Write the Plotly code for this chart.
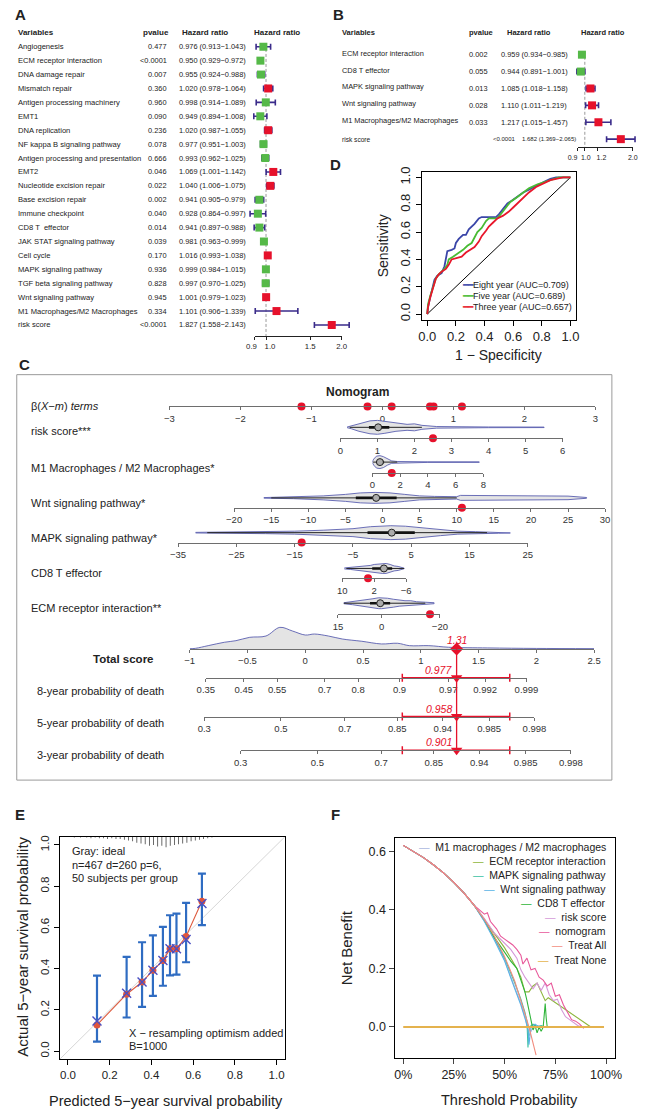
import math
import plotly.graph_objects as go

W, H = 649, 1114
FONT = "Liberation Sans, Arial, Helvetica, sans-serif"
RED = '#e6112b'
GREEN = '#55b948'
PURPLE = '#3a2b8a'

# ---------------- Panel A : univariate Cox ----------------
a_vars = ["Angiogenesis", "ECM receptor interaction", "DNA damage repair", "Mismatch repair",
          "Antigen processing machinery", "EMT1", "DNA replication", "NF kappa B signaling pathway",
          "Antigen processing and presentation", "EMT2", "Nucleotide excision repair",
          "Base excision repair", "Immune checkpoint", "CD8 T  effector", "JAK STAT signaling pathway",
          "Cell cycle", "MAPK signaling pathway", "TGF beta signaling pathway", "Wnt signaling pathway",
          "M1 Macrophages/M2 Macrophages", "risk score"]
a_pval = ["0.477", "<0.0001", "0.007", "0.360", "0.960", "0.090", "0.236", "0.078", "0.666", "0.046",
          "0.022", "0.002", "0.040", "0.014", "0.039", "0.170", "0.936", "0.828", "0.945", "0.334", "<0.0001"]
a_hr = [0.976, 0.950, 0.955, 1.020, 0.998, 0.949, 1.020, 0.977, 0.993, 1.069, 1.040, 0.941, 0.928, 0.941,
        0.981, 1.016, 0.999, 0.997, 1.001, 1.101, 1.827]
a_lo = [0.913, 0.929, 0.924, 0.978, 0.914, 0.894, 0.987, 0.951, 0.962, 1.001, 1.006, 0.905, 0.864, 0.897,
        0.963, 0.993, 0.984, 0.970, 0.979, 0.906, 1.558]
a_hi = [1.043, 0.972, 0.988, 1.064, 1.089, 1.008, 1.055, 1.003, 1.025, 1.142, 1.075, 0.979, 0.997, 0.988,
        0.999, 1.038, 1.015, 1.025, 1.023, 1.339, 2.143]
a_ticks = [0.9, 1.0, 1.5, 2.0]
a_ticktext = ["0.9", "1.0", "1.5", "2.0"]

# ---------------- Panel B : multivariate Cox ----------------
b_vars = ["ECM receptor interaction", "CD8 T effector", "MAPK signaling pathway", "Wnt signaling pathway",
          "M1 Macrophages/M2 Macrophages", "risk score"]
b_pval = ["0.002", "0.055", "0.013", "0.028", "0.033", "<0.0001"]
b_hr = [0.959, 0.944, 1.085, 1.110, 1.217, 1.682]
b_lo = [0.934, 0.891, 1.018, 1.011, 1.015, 1.369]
b_hi = [0.985, 1.001, 1.158, 1.219, 1.457, 2.065]
b_ticks = [0.9, 1.0, 1.2, 2.0]
b_ticktext = ["0.9", "1.0", "1.2", "2.0"]

# ---------------- Panel D : ROC ----------------
roc8_fpr = [0, 0.005, 0.02, 0.04, 0.05, 0.07, 0.10, 0.12, 0.13, 0.14, 0.17, 0.19, 0.20, 0.22, 0.25, 0.27, 0.29,
            0.31, 0.33, 0.36, 0.38, 0.48, 0.50, 0.53, 0.56, 0.59, 0.63, 0.67, 0.71, 0.76, 0.82, 0.86, 0.90, 1.0]
roc8_tpr = [0, 0.05, 0.12, 0.20, 0.25, 0.28, 0.30, 0.35, 0.40, 0.46, 0.47, 0.48, 0.52, 0.55, 0.58, 0.58, 0.62,
            0.64, 0.66, 0.70, 0.71, 0.71, 0.73, 0.77, 0.81, 0.83, 0.86, 0.89, 0.91, 0.94, 0.97, 0.99, 1.0, 1.0]
roc5_fpr = [0, 0.005, 0.02, 0.04, 0.06, 0.08, 0.10, 0.12, 0.14, 0.15, 0.18, 0.21, 0.25, 0.28, 0.31, 0.33, 0.35,
            0.38, 0.41, 0.43, 0.49, 0.52, 0.55, 0.58, 0.62, 0.66, 0.71, 0.77, 0.83, 0.88, 0.92, 1.0]
roc5_tpr = [0, 0.07, 0.13, 0.20, 0.26, 0.29, 0.31, 0.33, 0.36, 0.40, 0.42, 0.44, 0.47, 0.50, 0.52, 0.56, 0.60,
            0.63, 0.68, 0.70, 0.70, 0.74, 0.78, 0.82, 0.85, 0.88, 0.92, 0.95, 0.97, 0.99, 1.0, 1.0]
roc3_fpr = [0, 0.005, 0.02, 0.04, 0.06, 0.08, 0.10, 0.13, 0.15, 0.17, 0.21, 0.24, 0.27, 0.30, 0.33, 0.36, 0.38,
            0.41, 0.43, 0.46, 0.49, 0.53, 0.57, 0.60, 0.64, 0.67, 0.71, 0.76, 0.80, 0.86, 0.90, 0.95, 1.0]
roc3_tpr = [0, 0.05, 0.12, 0.20, 0.26, 0.29, 0.31, 0.33, 0.36, 0.40, 0.41, 0.42, 0.45, 0.47, 0.49, 0.53, 0.57,
            0.61, 0.64, 0.67, 0.70, 0.72, 0.75, 0.78, 0.82, 0.85, 0.89, 0.93, 0.95, 0.98, 0.99, 1.0, 1.0]
roc_names = ["Eight year (AUC=0.709)", "Five year (AUC=0.689)", "Three year (AUC=0.657)"]
roc_colors = ['#3a45a8', '#49bb34', '#e8162b']

# ---------------- Panel C : nomogram ----------------
beta_ticks = [-3, -2, -1, 0, 1, 2, 3]
beta_points = [-1.14, -0.21, 0.13, 0.67, 0.72, 1.12]

risk_ticks = [0, 1, 2, 3, 4, 5, 6]
risk_vx = [0.18, 0.3, 0.5, 0.8, 1.0, 1.2, 1.5, 1.8, 2.0, 2.2, 2.6, 3.0, 4.0, 5.5]
risk_vw = [0.3, 1.5, 4.0, 6.5, 7.0, 6.0, 4.0, 3.0, 3.5, 2.0, 0.8, 0.5, 0.35, 0.25]
risk_box = [0.77, 1.32, 0.25, 2.2, 1.02]          # q1, q3, whisker lo, whisker hi, median
risk_point = 2.5

m1_ticks = [0, 2, 4, 6, 8]
m1_vx = [0.0, 0.1, 0.3, 0.55, 0.8, 1.1, 1.4, 1.8, 2.5, 4.0, 7.7]
m1_vw = [0.3, 3.0, 6.0, 6.5, 5.5, 3.0, 1.2, 0.6, 0.4, 0.3, 0.25]
m1_box = [0.3, 0.85, 0.05, 1.8, 0.55]
m1_point = 1.4

wnt_ticks = [-20, -15, -10, -5, 0, 5, 10, 15, 20, 25, 30]
wnt_vx = [-16, -12, -8, -5, -3, -1, 1, 3, 5, 7, 10, 10.5, 15, 20, 25, 27.5]
wnt_vw = [0.3, 0.8, 2.0, 3.5, 5.0, 5.5, 5.0, 3.5, 2.0, 1.5, 1.2, 2.5, 2.2, 2.0, 1.8, 0.4]
wnt_box = [-3.6, 1.9, -15, 10, -0.86]
wnt_point = 10.7

mapk_ticks = [-35, -25, -15, -5, 5, 15, 25]
mapk_vx = [-32, -25, -20, -15, -10, -5, -2, 1.5, 4, 7, 10, 13, 16, 20, 22]
mapk_vw = [0.3, 0.6, 1.0, 1.5, 2.5, 4.0, 6.0, 7.0, 6.5, 5.0, 3.0, 1.5, 1.0, 0.6, 0.3]
mapk_box = [-2.5, 5.6, -30, 18, 1.65]
mapk_point = -13.8

cd8_ticks = [10, 2, -6]
cd8_vx = [9.5, 8, 6, 4.5, 3, 2, 1, 0, -1, -2, -3, -4, -5, -5.5]
cd8_vw = [0.5, 1.0, 2.0, 2.5, 3.0, 4.0, 4.5, 5.0, 5.0, 4.0, 2.5, 2.0, 1.0, 0.3]
cd8_box = [2.5, -2.5, 9, -5.5, -0.43]
cd8_point = 3.55

ecm_ticks = [15, 0, -20]
ecm_vx = [13, 10, 7, 5, 3, 1, 0, -2, -4, -6, -8, -10, -12, -15, -18]
ecm_vw = [0.5, 1.5, 2.5, 3.5, 4.5, 5.5, 5.5, 5.0, 4.0, 3.0, 2.5, 2.5, 1.5, 1.0, 0.5]
ecm_box = [4.0, -2.9, 13, -15, 0.5]
ecm_point = -16.6

total_ticks = [-1, -0.5, 0, 0.5, 1, 1.5, 2, 2.5]
total_ticktext = ["−1", "−0.5", "0", "0.5", "1", "1.5", "2", "2.5"]
total_dx = [-1.0, -0.95, -0.84, -0.7, -0.6, -0.48, -0.34, -0.22, -0.11, 0.0, 0.08, 0.2, 0.32, 0.49, 0.66,
            0.8, 0.9, 1.07, 1.24, 1.58, 2.0, 2.5]
total_dy = [0.2, 0.6, 3.3, 6.7, 8.3, 11.7, 13.0, 21.7, 18.0, 14.0, 15.0, 13.0, 10.0, 7.7, 5.0, 5.7, 3.3, 3.3,
            1.7, 1.0, 0.5, 0.3]
total_score = 1.31
total_ci = [0.84, 1.77]

p8_labels = ["0.35", "0.45", "0.55", "0.7", "0.8", "0.9", "0.97", "0.992", "0.999"]
p8_scores = [-0.86, -0.532, -0.243, 0.168, 0.458, 0.816, 1.237, 1.557, 1.915]
p5_labels = ["0.3", "0.5", "0.7", "0.85", "0.94", "0.985", "0.998"]
p5_scores = [-0.874, -0.21, 0.342, 0.797, 1.191, 1.592, 1.984]
p3_labels = ["0.3", "0.5", "0.7", "0.85", "0.94", "0.985", "0.998"]
p3_scores = [-0.559, 0.105, 0.657, 1.112, 1.506, 1.907, 2.299]
pred_probs = ["0.977", "0.958", "0.901"]

# ---------------- Panel E : calibration ----------------
e_pred = [0.139, 0.281, 0.355, 0.407, 0.455, 0.489, 0.520, 0.566, 0.642]
e_obs = [0.127, 0.276, 0.335, 0.392, 0.439, 0.496, 0.496, 0.556, 0.727]
e_corr = [0.146, 0.281, 0.335, 0.392, 0.439, 0.496, 0.496, 0.541, 0.716]
e_lo = [0.046, 0.163, 0.215, 0.268, 0.317, 0.367, 0.371, 0.431, 0.611]
e_hi = [0.366, 0.457, 0.528, 0.561, 0.603, 0.659, 0.667, 0.719, 0.861]
rug_x = [0.03, 0.06, 0.09, 0.11, 0.13, 0.15, 0.17, 0.19, 0.21, 0.23, 0.25, 0.27, 0.29, 0.31, 0.33, 0.35, 0.37,
         0.39, 0.41, 0.43, 0.45, 0.47, 0.49, 0.51, 0.53, 0.55, 0.57, 0.59, 0.61, 0.63, 0.65, 0.67, 0.69]
rug_n = [1, 1, 1, 2, 1, 2, 2, 3, 2, 3, 3, 4, 5, 6, 8, 9, 10, 12, 11, 13, 12, 14, 12, 11, 10, 9, 8, 6, 5, 4, 3,
         2, 1]

# ---------------- Panel F : decision curves ----------------
f_all_x = [0.0, 0.05, 0.1, 0.15, 0.2, 0.25, 0.3, 0.35, 0.4, 0.45, 0.5, 0.55, 0.6, 0.62, 0.655]
f_all_y = [0.620, 0.600, 0.578, 0.553, 0.525, 0.493, 0.457, 0.415, 0.367, 0.309, 0.240, 0.156, 0.050, 0.0, -0.096]
f_none_x = [0.0, 0.99]
f_none_y = [0.0, 0.0]
f_nomo_x = [0.00, 0.05, 0.10, 0.15, 0.20, 0.25, 0.30, 0.35, 0.38, 0.40, 0.415, 0.43, 0.46, 0.48, 0.50, 0.52,
            0.54, 0.56, 0.58, 0.59, 0.61, 0.63, 0.65, 0.67, 0.69, 0.71, 0.73, 0.75, 0.77, 0.79, 0.81, 0.83,
            0.85, 0.87, 0.89]
f_nomo_y = [0.620, 0.600, 0.578, 0.553, 0.525, 0.493, 0.457, 0.415, 0.395, 0.385, 0.390, 0.360, 0.335, 0.310,
            0.300, 0.290, 0.280, 0.265, 0.245, 0.215, 0.235, 0.195, 0.200, 0.170, 0.160, 0.140, 0.150, 0.105,
            0.110, 0.075, 0.050, 0.025, 0.020, 0.010, -0.005]
f_risk_x = [0.00, 0.05, 0.10, 0.15, 0.20, 0.25, 0.30, 0.35, 0.40, 0.45, 0.50, 0.53, 0.56, 0.58, 0.60, 0.62,
            0.64, 0.66, 0.68, 0.70, 0.72, 0.74, 0.76, 0.78, 0.80, 0.82, 0.84, 0.86, 0.88]
f_risk_y = [0.620, 0.600, 0.578, 0.553, 0.525, 0.493, 0.457, 0.415, 0.370, 0.320, 0.285, 0.265, 0.235, 0.195,
            0.170, 0.150, 0.130, 0.150, 0.125, 0.150, 0.110, 0.090, 0.095, 0.060, 0.035, 0.025, 0.015, 0.005, 0.0]
f_ecm_x = [0.00, 0.05, 0.10, 0.15, 0.20, 0.25, 0.30, 0.35, 0.40, 0.45, 0.50, 0.53, 0.56, 0.58, 0.60, 0.62,
           0.64, 0.66, 0.68, 0.70, 0.715, 0.925]
f_ecm_y = [0.620, 0.600, 0.578, 0.553, 0.525, 0.493, 0.457, 0.415, 0.367, 0.315, 0.270, 0.235, 0.200, 0.170,
           0.120, 0.120, 0.140, 0.150, 0.120, 0.090, 0.100, 0.0]
f_cd8_x = [0.00, 0.05, 0.10, 0.15, 0.20, 0.25, 0.30, 0.35, 0.40, 0.45, 0.50, 0.53, 0.56, 0.58, 0.60, 0.61,
           0.62, 0.63, 0.64, 0.65, 0.66, 0.67, 0.68, 0.69, 0.70, 0.705, 0.71, 0.72]
f_cd8_y = [0.620, 0.600, 0.578, 0.553, 0.525, 0.493, 0.457, 0.415, 0.367, 0.305, 0.255, 0.225, 0.200, 0.160,
           0.120, 0.090, 0.060, 0.020, -0.010, 0.005, -0.020, 0.000, -0.015, 0.000, 0.080, 0.030, 0.000, 0.0]
f_mapk_x = [0.00, 0.05, 0.10, 0.15, 0.20, 0.25, 0.30, 0.35, 0.40, 0.45, 0.50, 0.55, 0.58, 0.60, 0.61, 0.615,
            0.62, 0.63, 0.64, 0.66, 0.68, 0.70]
f_mapk_y = [0.620, 0.600, 0.578, 0.553, 0.525, 0.493, 0.457, 0.415, 0.367, 0.305, 0.235, 0.150, 0.095, 0.050,
            0.020, -0.070, -0.010, 0.005, 0.010, 0.000, 0.005, 0.000]
f_wnt_x = [0.00, 0.05, 0.10, 0.15, 0.20, 0.25, 0.30, 0.35, 0.40, 0.45, 0.50, 0.55, 0.58, 0.60, 0.615, 0.62,
           0.63, 0.65, 0.67, 0.70]
f_wnt_y = [0.620, 0.600, 0.578, 0.553, 0.525, 0.493, 0.457, 0.415, 0.360, 0.295, 0.225, 0.130, 0.075, 0.030,
           -0.005, -0.060, 0.000, 0.010, 0.000, 0.000]
f_m1_x = [0.00, 0.05, 0.10, 0.15, 0.20, 0.25, 0.30, 0.35, 0.40, 0.45, 0.50, 0.55, 0.58, 0.60, 0.62, 0.64,
          0.66, 0.70]
f_m1_y = [0.620, 0.600, 0.578, 0.553, 0.525, 0.493, 0.457, 0.415, 0.362, 0.300, 0.228, 0.135, 0.080, 0.035,
          -0.030, 0.000, 0.005, 0.000]
f_names = ["M1 macrophages / M2 macrophages", "ECM receptor interaction", "MAPK signaling pathway",
           "Wnt signaling pathway", "CD8 T effector", "risk score", "nomogram", "Treat All", "Treat None"]
f_colors = ['#aab6df', '#8db53c', '#3cc2a2', '#5ab2e6', '#2fb43a', '#d598d8', '#e8589a', '#f28c7e', '#e4b24e']

# =====================================================================
layout = dict(width=W, height=H, margin=dict(l=0, r=0, t=0, b=0, pad=0), paper_bgcolor='white',
              plot_bgcolor='rgba(0,0,0,0)', showlegend=False, hovermode=False,
              font=dict(family=FONT, size=10, color='#222'))
fig = go.Figure()
annotations = []
shapes = []
AX = [0]


def new_axes(xd, yd, xcfg=None, ycfg=None):
    AX[0] += 1
    n = AX[0]
    s = '' if n == 1 else str(n)
    xn, yn = 'x' + s, 'y' + s
    xc = dict(domain=[xd[0] / W, min(1, xd[1] / W)], anchor=yn, visible=False, showgrid=False,
              zeroline=False, fixedrange=True)
    if xcfg:
        xc.update(xcfg)
    yc = dict(domain=[1 - yd[0] / H, 1 - yd[1] / H], anchor=xn, visible=False, showgrid=False,
              zeroline=False, fixedrange=True)
    if ycfg:
        yc.update(ycfg)
    layout['xaxis' + s] = xc
    layout['yaxis' + s] = yc
    return xn, yn


def ann(text, x, y, size=8, xanchor='center', yanchor='middle', color='#222', angle=0, yref='paper',
        xref='paper', **kw):
    d = dict(text=text, x=(x / W) if xref == 'paper' else x, y=(1 - y / H) if yref == 'paper' else y,
             xref=xref, yref=yref, xanchor=xanchor, yanchor=yanchor, showarrow=False, textangle=angle,
             font=dict(size=size, color=color, family=FONT))
    d.update(kw)
    annotations.append(d)


def add(tr, xa, ya):
    tr.update(xaxis=xa, yaxis=ya, showlegend=False, hoverinfo='skip')
    fig.add_trace(tr)


# ---------------- forest helper ----------------
def forest(hr, lo, hi, ticks, ticktext, shifts, p1, slope, xd, y_top, y_row0, dy, y_axis, tsize):
    n = len(hr)
    yr = [(y_axis - y_row0) / dy, (y_top - y_row0) / dy]
    rng = [(xd[0] - p1) / slope, (xd[1] - p1) / slope]
    xa, ya = new_axes(xd, (y_axis, y_top), dict(type='log', range=rng), dict(range=yr))
    rows = list(range(n))
    add(go.Scatter(x=[1, 1], y=[yr[1] + 0.3, yr[0]], mode='lines',
                   line=dict(color='#9a9a9a', width=1, dash='3px,2px')), xa, ya)
    add(go.Scatter(x=hr, y=rows, mode='markers',
                   marker=dict(symbol='square', size=8, color=[GREEN if v < 1 else RED for v in hr]),
                   error_x=dict(type='data', symmetric=False, array=[h - v for h, v in zip(hi, hr)],
                                arrayminus=[v - l for v, l in zip(hr, lo)], color=PURPLE, thickness=1.6,
                                width=3),
                   cliponaxis=False), xa, ya)
    # visible axis line + ticks covering only the tick extent
    txd = (p1 + slope * math.log10(ticks[0]), p1 + slope * math.log10(ticks[-1]))
    trng = [math.log10(ticks[0]), math.log10(ticks[-1])]
    base = dict(visible=True, type='log', range=trng, tickvals=ticks, ticktext=ticktext, showline=True,
                linecolor='#222', linewidth=1, ticks='outside', ticklen=3, tickcolor='#222',
                showticklabels=False, showgrid=False, zeroline=False)
    tx, ty = new_axes(txd, (y_axis, y_top), base, dict(range=yr))
    add(go.Scatter(x=ticks, y=[None] * len(ticks), mode='markers'), tx, ty)
    # one label axis per tick so crowded labels can be nudged apart
    for t, lab, sh in zip(ticks, ticktext, shifts):
        cfg = dict(visible=True, type='log', range=trng, tickvals=[t], ticktext=[lab], showline=False,
                   ticks='outside', ticklen=3, tickcolor='rgba(0,0,0,0)', tickangle=0, ticklabelshift=sh,
                   tickfont=dict(size=tsize, color='#222', family=FONT), showgrid=False, zeroline=False)
        lx, ly = new_axes(txd, (y_axis, y_top), cfg, dict(range=yr))
        add(go.Scatter(x=[t], y=[None], mode='markers'), lx, ly)
    return ya


# ---------------- Panel A ----------------
ann('<b>A</b>', 3, 10, 15, 'left')
yA = forest(a_hr, a_lo, a_hi, a_ticks, a_ticktext, [-3, 4, 0, 0], 265, 260, (244, 356), 35, 42, 14, 333, 7.8)
ann('<b>Variables</b>', 6, 28, 8, 'left')
ann('<b>pvalue</b>', 151, 28, 8)
ann('<b>Hazard ratio</b>', 202, 28, 8)
ann('<b>Hazard ratio</b>', 276, 28, 8)
for i, name in enumerate(a_vars):
    ann(name, 6, i, 7.6, 'left', yref=yA)
    ann(a_pval[i], 164.5, i, 7.4, 'right', yref=yA)
    ann(f"{a_hr[i]:.3f} ({a_lo[i]:.3f}−{a_hi[i]:.3f})", 173, i, 7.4, 'left', yref=yA)

# ---------------- Panel B ----------------
ann('<b>B</b>', 332, 10, 15, 'left')
yB = forest(b_hr, b_lo, b_hi, b_ticks, b_ticktext, [-5, 1, 4, 0], 595, 165, (578, 649), 42, 50, 17, 143, 7)
ann('<b>Variables</b>', 342, 28, 7.5, 'left')
ann('<b>pvalue</b>', 488, 28, 7.5)
ann('<b>Hazard ratio</b>', 537, 28, 7.5)
ann('<b>Hazard ratio</b>', 614, 28, 7.5)
for i, name in enumerate(b_vars):
    if i < len(b_vars) - 1:
        ann(name, 342, i, 7.4, 'left', yref=yB, yshift=1.5)
        ann(b_pval[i], 497, i, 7.4, 'right', yref=yB)
        ann(f"{b_hr[i]:.3f} ({b_lo[i]:.3f}−{b_hi[i]:.3f})", 506, i, 7.4, 'left', yref=yB)
    else:
        ann(name, 342, i, 6.6, 'left', yref=yB)
        ann(b_pval[i], 526, i, 6.0, 'right', yref=yB)
        ann(f"{b_hr[i]:.3f} ({b_lo[i]:.3f}−{b_hi[i]:.3f})", 528, i, 6.0, 'left', yref=yB)


# ---------------- Panel D : ROC ----------------
def frame_axis(rng, vals, text, size, angle=None, tickcolor='black'):
    d = dict(visible=True, range=rng, tickvals=vals, ticktext=text, showline=True, mirror=True,
             linecolor='black', linewidth=1, ticks='outside', ticklen=5, tickcolor=tickcolor,
             tickfont=dict(size=size, color='#222', family=FONT), showgrid=False, zeroline=False)
    if angle is not None:
        d['tickangle'] = angle
    return d


ann('<b>D</b>', 329, 161, 15, 'left')
u = [0, 0.2, 0.4, 0.6, 0.8, 1.0]
ut = ['0.0', '0.2', '0.4', '0.6', '0.8', '1.0']
xD, yD = new_axes((426, 586), (316.5, 168), frame_axis([-0.04, 1.04], u, ut, 13),
                  frame_axis([-0.04, 1.04], u, ut, 13, angle=-90))
add(go.Scatter(x=[0, 1], y=[0, 1], mode='lines', line=dict(color='black', width=1)), xD, yD)
for fx, ty_, c in zip([roc8_fpr, roc5_fpr, roc3_fpr], [roc8_tpr, roc5_tpr, roc3_tpr], roc_colors):
    add(go.Scatter(x=fx, y=ty_, mode='lines', line=dict(color=c, width=1.8)), xD, yD)
for k, (nm, c) in enumerate(zip(roc_names, roc_colors)):
    ann(f'<span style="color:{c}">━━</span>{nm}', 466, 282 + 11 * k, 9, 'left')
ann('Sensitivity', 387, 242, 14, angle=-90)
ann('1 − Specificity', 506, 352, 14)

# ---------------- Panel C : nomogram ----------------
ann('<b>C</b>', 7, 362, 15, 'left')
shapes.append(dict(type='rect', xref='paper', yref='paper', x0=7 / W, x1=623 / W, y0=1 - 780 / H,
                   y1=1 - 372 / H, line=dict(color='#9a9a9a', width=1)))
ann('<b>Nomogram</b>', 360, 389, 12)

NCOL = '#5a5fb0'


def nomo_axis(vals, text, rng):
    return dict(visible=True, range=rng, tickvals=vals, ticktext=text, showline=True, linecolor='#6e6e6e',
                linewidth=1, ticks='outside', ticklen=3, tickcolor='#6e6e6e', tickangle=0,
                tickfont=dict(size=9.5, color='#333', family=FONT), showgrid=False, zeroline=False)


def fmt(v):
    s = f"{v:g}"
    return s.replace('-', '−')


def nomo_row(axis_y, xd, ticks, rng, ticktext=None, top=20):
    tt = ticktext if ticktext is not None else [fmt(t) for t in ticks]
    xc = nomo_axis(ticks, tt, rng)
    xc.update(anchor='free', position=1 - axis_y / H)
    return new_axes(xd, (axis_y + 8, axis_y - top), xc, dict(range=[-8, top]))


def draw_violin(xa, ya, vx, vw, box, point, off):
    px_ = list(vx) + list(vx[::-1])
    py_ = [off + w for w in vw] + [off - w for w in vw[::-1]]
    add(go.Scatter(x=px_, y=py_, mode='lines', fill='toself', fillcolor='#e4e4e4',
                   line=dict(color=NCOL, width=0.9)), xa, ya)
    add(go.Scatter(x=[box[2], box[3]], y=[off, off], mode='lines', line=dict(color='#222', width=1)), xa, ya)
    add(go.Scatter(x=[box[0], box[1]], y=[off, off], mode='lines', line=dict(color='#111', width=2.6)), xa, ya)
    add(go.Scatter(x=[box[4]], y=[off], mode='markers',
                   marker=dict(size=7, color='#ababab', line=dict(color='#222', width=1))), xa, ya)
    add(go.Scatter(x=[point], y=[0], mode='markers', marker=dict(size=8, color=RED), cliponaxis=False), xa, ya)


# beta terms
xb, ybb = nomo_row(404, (165, 606), beta_ticks, [-3, 3], top=8)
add(go.Scatter(x=beta_points, y=[0] * len(beta_points), mode='markers', marker=dict(size=8, color=RED),
               cliponaxis=False), xb, ybb)
ann('β(<i>X−m</i>) <i>terms</i>', 20, 404, 11, 'left')

rows = [
    ("risk score***", 429, 436, 11, (342, 572), risk_ticks, [0, 6], risk_vx, risk_vw, risk_box, risk_point),
    ("M1 Macrophages / M2 Macrophages*", 466, 471, 11, (375, 490), m1_ticks, [0, 8], m1_vx, m1_vw, m1_box,
     m1_point),
    ("Wnt signaling pathway*", 501, 506, 10, (232, 616), wnt_ticks, [-20, 30], wnt_vx, wnt_vw, wnt_box,
     wnt_point),
    ("MAPK signaling pathway*", 536, 541, 10, (174, 536), mapk_ticks, [-35, 25], mapk_vx, mapk_vw, mapk_box,
     mapk_point),
    ("CD8 T effector", 572, 577, 10, (344, 410), cd8_ticks, [10, -6], cd8_vx, cd8_vw, cd8_box, cd8_point),
    ("ECM receptor interaction**", 607, 613, 11, (339.5, 445), ecm_ticks, [15, -20], ecm_vx, ecm_vw, ecm_box,
     ecm_point),
]
for label, ly, axy, off, xd, ticks, rng, vx, vw, box, pt in rows:
    xa, ya = nomo_row(axy, xd, ticks, rng)
    draw_violin(xa, ya, vx, vw, box, pt, off)
    ann(label, 20, ly, 11, 'left')

# total score
TS0, TSS = 186, 119.6


def ts_px(s):
    return TS0 + (s + 1) * TSS


xt, yt = nomo_row(648, (ts_px(-1), ts_px(2.5)), total_ticks, [-1, 2.5], total_ticktext, top=30)
add(go.Scatter(x=total_dx, y=total_dy, mode='lines', fill='tozeroy', fillcolor='#e4e4e4',
               line=dict(color=NCOL, width=0.9, shape='spline')), xt, yt)
add(go.Scatter(x=[total_score], y=[0], mode='markers', marker=dict(symbol='diamond', size=10, color=RED),
               cliponaxis=False), xt, yt)
ann(f'<i>{total_score:.2f}</i>', total_score, 639, 10.5, 'center', color=RED, xref=xt)
ann('<b>Total score</b>', 151, 658, 11.5, 'right')

prob_rows = [("8-year probability of death", 690, 677, p8_scores, p8_labels, pred_probs[0]),
             ("5-year probability of death", 723, 716, p5_scores, p5_labels, pred_probs[1]),
             ("3-year probability of death", 755, 750, p3_scores, p3_labels, pred_probs[2])]
for label, ly, axy, sc, lab, pp in prob_rows:
    xa, ya = nomo_row(axy, (ts_px(sc[0]), ts_px(sc[-1])), sc, [sc[0], sc[-1]], lab, top=12)
    add(go.Scatter(x=[total_score], y=[0], mode='markers',
                   marker=dict(symbol='triangle-down', size=10, color=RED),
                   error_x=dict(type='data', symmetric=False, array=[total_ci[1] - total_score],
                                arrayminus=[total_score - total_ci[0]], color=RED, thickness=1.5, width=4),
                   cliponaxis=False), xa, ya)
    ann(f'<i>{pp}</i>', total_score, axy - 8, 10.5, 'right', color=RED, xref=xa, xshift=-3)
    ann(label, 26, ly, 11, 'left')
shapes.append(dict(type='line', xref=xt, yref='paper', x0=total_score, x1=total_score, y0=1 - 648 / H,
                   y1=1 - 750 / H, line=dict(color=RED, width=1.3)))

# ---------------- Panel E : calibration ----------------
ann('<b>E</b>', 3, 815, 15, 'left')
xE, yE = new_axes((51.4, 284.6), (1061, 837), frame_axis([-0.04, 1.04], u, ut, 11.5),
                  frame_axis([-0.04, 1.04], u, ut, 11.5, angle=-90))
add(go.Scatter(x=[-0.04, 1.04], y=[-0.04, 1.04], mode='lines', line=dict(color='#d6d6d6', width=1)), xE, yE)
add(go.Scatter(x=e_pred, y=e_obs, mode='markers', marker=dict(size=1, color='rgba(0,0,0,0)'),
               error_y=dict(type='data', symmetric=False, array=[h - o for h, o in zip(e_hi, e_obs)],
                            arrayminus=[o - l for o, l in zip(e_obs, e_lo)], color='#2f6cc2', thickness=2.2,
                            width=4)), xE, yE)
add(go.Scatter(x=e_pred, y=e_obs, mode='lines+markers', line=dict(color='#de5b3e', width=1.1),
               marker=dict(size=7, color='#e0553c')), xE, yE)
add(go.Scatter(x=e_pred, y=e_corr, mode='markers',
               marker=dict(symbol='x-thin', size=9, line=dict(color='#4a4fc2', width=1.4))), xE, yE)
xR, yR = new_axes((51.4, 284.6), (849, 837), dict(range=[-0.04, 1.04]), dict(range=[16, 0]))
add(go.Bar(x=rug_x, y=rug_n, width=0.0035, marker=dict(color='#333', line=dict(width=0))), xR, yR)
ann('Gray: ideal', 62, 851, 11, 'left')
ann('n=467 d=260 p=6,', 62, 865, 11, 'left')
ann('50 subjects per group', 62, 879, 11, 'left')
ann('X − resampling optimism added', 121, 1035, 11, 'left')
ann('B=1000', 121, 1048, 11, 'left')
ann('Actual 5−year survival probability', 12, 948, 15, angle=-90)
ann('Predicted 5−year survival probability', 161, 1103, 14.5)

# ---------------- Panel F : decision curves ----------------
ann('<b>F</b>', 330, 815, 15, 'left')
xF, yF = new_axes((398, 626), (1060, 838),
                  frame_axis([-0.043, 1.043], [0, 0.25, 0.5, 0.75, 1.0], ['0%', '25%', '50%', '75%', '100%'],
                             12.5, tickcolor='#444'),
                  frame_axis([-0.107, 0.646], [0, 0.2, 0.4, 0.6], ['0.0', '0.2', '0.4', '0.6'], 12.5,
                             tickcolor='#444'))
f_series = [(f_m1_x, f_m1_y), (f_ecm_x, f_ecm_y), (f_mapk_x, f_mapk_y), (f_wnt_x, f_wnt_y),
            (f_cd8_x, f_cd8_y), (f_risk_x, f_risk_y), (f_nomo_x, f_nomo_y), (f_all_x, f_all_y)]
for (fx, fy), c in zip(f_series, f_colors[:8]):
    add(go.Scatter(x=fx, y=fy, mode='lines', line=dict(color=c, width=1.1)), xF, yF)
add(go.Scatter(x=f_none_x, y=f_none_y, mode='lines', line=dict(color=f_colors[8], width=2)), xF, yF)
for k, (nm, c) in enumerate(zip(f_names, f_colors)):
    ann(f'<span style="color:{c}">—</span>  {nm}', 619, 847 + 14.2 * k, 10.5, 'right')
ann('Net Benefit', 348, 949, 15, angle=-90)
ann('Threshold Probability', 517, 1102, 14.5)

layout['annotations'] = annotations
layout['shapes'] = shapes
fig.update_layout(**layout)
# the page body has a default 8px margin; remove it so the figure fills the window exactly
fig.write_html("out.html", config={'displayModeBar': False, 'staticPlot': True},
               post_script="document.body.style.margin='0px';")
